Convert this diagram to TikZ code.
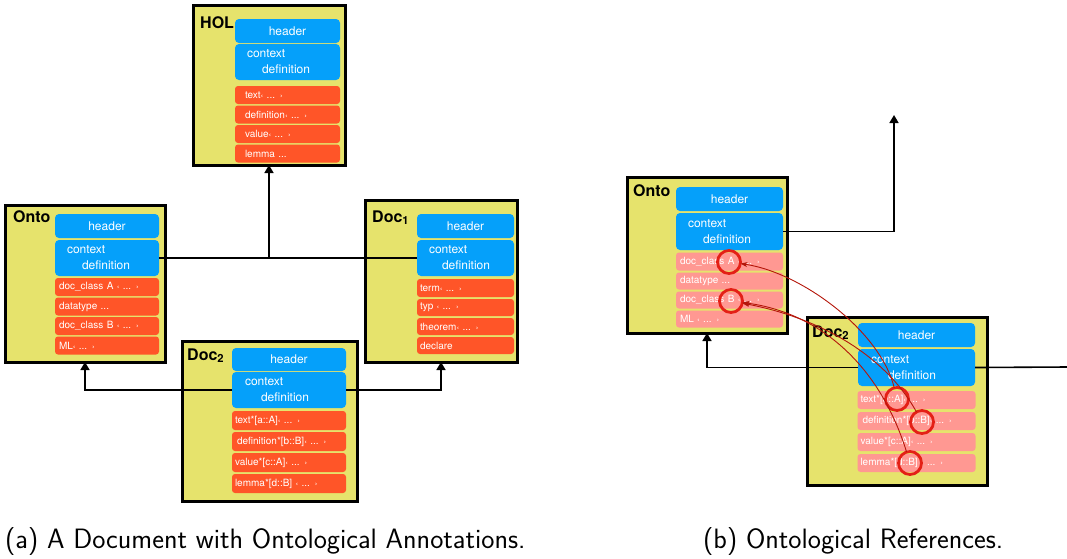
\documentclass[tikz,border=0pt]{standalone}
\usepackage{fontspec}
\setmainfont{TeX Gyre Heros}
\usetikzlibrary{arrows.meta, positioning}

\definecolor{boxyellow}{RGB}{230,227,108}
\definecolor{hdrblue}{RGB}{5,160,250}
\definecolor{itemred}{RGB}{255,85,40}
\definecolor{itempink}{RGB}{255,152,146}
\definecolor{markred}{RGB}{228,32,22}
\definecolor{refred}{RGB}{180,22,10}

\newcommand{\qo}{{\fontsize{8}{8}\selectfont‹}}
\newcommand{\qc}{{\fontsize{8}{8}\selectfont›}}

\begin{document}
\begin{tikzpicture}[
    x=1pt, y=-1pt,
    frame/.style={rectangle, draw=black, line width=3pt, fill=boxyellow, anchor=north west, inner sep=0pt, outer sep=0pt},
    title/.style={anchor=base west, inner sep=0pt, font=\bfseries\fontsize{16}{16}\selectfont},
    header/.style={rectangle, fill=hdrblue, rounded corners=4pt, text=white, anchor=north west, minimum height=24pt, inner sep=0pt, outer sep=0pt, font=\fontsize{12}{13}\selectfont},
    ctx/.style={rectangle, fill=hdrblue, rounded corners=4pt, text=white, minimum height=36pt, inner xsep=12pt, inner ysep=0pt, outer sep=0pt, align=left, font=\fontsize{12}{16}\selectfont},
    item/.style={rectangle, fill=itemred, rounded corners=3pt, text=white, minimum height=18pt, inner xsep=4pt, inner ysep=0pt, outer sep=0pt, align=left, font=\fontsize{10}{10}\selectfont},
    pale/.style={item, fill=itempink},
    conn/.style={draw=black, line width=1.6pt, -{Triangle[length=8pt,width=9pt]}},
    plain/.style={draw=black, line width=1.6pt},
    refring/.style={circle, draw=markred, line width=2.8pt, minimum size=23pt, inner sep=0pt, outer sep=0pt},
    refline/.style={draw=refred, line width=0.9pt, -{Stealth[length=7pt,width=5pt]}},
    caption/.style={anchor=base west, inner sep=0pt, font=\sffamily\fontsize{28}{28}\selectfont}
  ]
  \useasboundingbox (0,0) rectangle (1067,558);

  % (a) HOL
  \node[frame, minimum width=152pt, minimum height=160pt] (hol) at (193,5) {};
  \node[title] (holtitle) at ([shift={(7,23)}]hol.north west) {HOL};
  \node[header, minimum width=105pt] (holhdr) at (235,19) {header};
  \node[ctx, text width=81pt, below=1pt of holhdr] (holctx) {context\\\hspace*{15pt}definition};
  \node[item, text width=85pt, inner xsep=10pt, below=6pt of holctx] (holi1) {text\qo{} ... \qc};
  \node[item, text width=85pt, inner xsep=10pt, below=1.5pt of holi1] (holi2) {definition\qo{} ... \qc};
  \node[item, text width=85pt, inner xsep=10pt, below=1.5pt of holi2] (holi3) {value\qo{} ... \qc};
  \node[item, text width=85pt, inner xsep=10pt, below=1.5pt of holi3] (holi4) {lemma ...};

  % (a) Onto
  \node[frame, minimum width=160pt, minimum height=157pt] (onto) at (5,205) {};
  \node[title] (ontotitle) at ([shift={(8,17)}]onto.north west) {Onto};
  \node[header, minimum width=104pt] (ontohdr) at (55,214) {header};
  \node[ctx, text width=80pt, below=2pt of ontohdr] (ontoctx) {context\\\hspace*{15pt}definition};
  \node[item, text width=96pt, below=2pt of ontoctx] (ontoi1) {doc\_class A \qo{} ... \qc};
  \node[item, text width=96pt, below=1.5pt of ontoi1] (ontoi2) {datatype ...};
  \node[item, text width=96pt, below=1.5pt of ontoi2] (ontoi3) {doc\_class B \qo{} ... \qc};
  \node[item, text width=96pt, below=1.5pt of ontoi3] (ontoi4) {ML\qo{} ... \qc};

  % (a) Doc1
  \node[frame, minimum width=152pt, minimum height=162pt] (docone) at (365,200) {};
  \node[title] (doconetitle) at ([shift={(7,22)}]docone.north west) {Doc\textsubscript{1}};
  \node[header, minimum width=97pt] (doconehdr) at (417,214) {header};
  \node[ctx, text width=73pt, inner xsep=12pt, below=2pt of doconehdr] (doconectx) {context\\\hspace*{13pt}definition};
  \node[item, text width=91pt, inner xsep=3pt, below=3pt of doconectx] (doconei1) {term\qo{} ... \qc};
  \node[item, text width=91pt, inner xsep=3pt, minimum height=17pt, below=2pt of doconei1] (doconei2) {typ \qo{} ... \qc};
  \node[item, text width=91pt, inner xsep=3pt, minimum height=17pt, below=2pt of doconei2] (doconei3) {theorem\qo{} ... \qc};
  \node[item, text width=91pt, inner xsep=3pt, minimum height=17pt, below=2pt of doconei3] (doconei4) {declare};

  % (a) Doc2
  \node[frame, minimum width=175pt, minimum height=160pt] (doctwo) at (182,341) {};
  \node[title] (doctwotitle) at ([shift={(5,19)}]doctwo.north west) {Doc\textsubscript{2}};
  \node[header, minimum width=114pt, minimum height=23pt] (doctwohdr) at (232,348) {header};
  \node[ctx, text width=88pt, inner xsep=13pt, below=1pt of doctwohdr] (doctwoctx) {context\\\hspace*{16pt}definition};
  \node[item, text width=108pt, inner xsep=3pt, minimum height=19pt, below=3pt of doctwoctx] (doctwoi1) {text*[a::A]\qo{} ... \qc};
  \node[item, text width=108pt, inner xsep=3pt, minimum height=19pt, below=2pt of doctwoi1] (doctwoi2) {\hspace*{2pt}definition*[b::B]\qo{} ... \qc};
  \node[item, text width=108pt, inner xsep=3pt, minimum height=19pt, below=2pt of doctwoi2] (doctwoi3) {value*[c::A]\qo{} ... \qc};
  \node[item, text width=108pt, inner xsep=3pt, minimum height=19pt, below=2pt of doctwoi3] (doctwoi4) {lemma*[d::B] \qo{} ... \qc};

  % (a) links
  \draw[plain] (ontoctx.east) -- (doconectx.west);
  \draw[conn] (ontoctx.east -| hol.south) -- (hol.south);
  \draw[conn] (doctwoctx.west) -| (onto.south);
  \draw[conn] (doctwoctx.east) -| (docone.south);

  % (b) Onto
  \node[frame, minimum width=160pt, minimum height=156pt] (ontob) at (627,177) {};
  \node[title] (ontobtitle) at ([shift={(6,19)}]ontob.north west) {Onto};
  \node[header, minimum width=107pt] (ontobhdr) at (676,187) {header};
  \node[ctx, text width=83pt, minimum height=37pt, below=2pt of ontobhdr] (ontobctx) {context\\\hspace*{15pt}definition};
  \node[pale, text width=99pt, below=2.5pt of ontobctx] (ontobi1) {doc\_class A \qo{} ... \qc};
  \node[pale, text width=99pt, minimum height=17pt, below=2pt of ontobi1] (ontobi2) {datatype ...};
  \node[pale, text width=99pt, minimum height=17pt, below=2pt of ontobi2] (ontobi3) {doc\_class B \qo{} ... \qc};
  \node[pale, text width=99pt, minimum height=17pt, below=2pt of ontobi3] (ontobi4) {ML \qo{} ... \qc};

  % (b) Doc2
  \node[frame, minimum width=180pt, minimum height=168pt] (doctwob) at (807,317) {};
  \node[title] (doctwobtitle) at ([shift={(5,20)}]doctwob.north west) {Doc\textsubscript{2}};
  \node[header, minimum width=117pt] (doctwobhdr) at (858,323) {header};
  \node[ctx, text width=91pt, inner xsep=13pt, minimum height=37pt, below=2pt of doctwobhdr] (doctwobctx) {context\\\hspace*{17pt}definition};
  \node[pale, text width=112pt, inner xsep=3pt, below=5pt of doctwobctx] (doctwobi1) {text*[a::A]\qo{} ... \qc};
  \node[pale, text width=112pt, inner xsep=3pt, below=3pt of doctwobi1] (doctwobi2) {\hspace*{2pt}definition*[b::B]\qo{} ... \qc};
  \node[pale, text width=112pt, inner xsep=3pt, below=3pt of doctwobi2] (doctwobi3) {value*[c::A]\qo{} ... \qc};
  \node[pale, text width=112pt, inner xsep=3pt, below=3pt of doctwobi3] (doctwobi4) {lemma*[d::B] \qo{} ... \qc};

  % (b) links
  \coordinate (upend) at (894,115);
  \coordinate (offpage) at (1067,367);
  \draw[conn] (ontobctx.east) -| (upend);
  \draw[conn] (doctwobctx.west) -| (ontob.south);
  \draw[plain] (doctwobctx.east) -- (offpage);

  % (b) references
  \node[refring] (refA) at (729,262) {};
  \node[refring] (refB) at (731,301) {};
  \node[refring] (useA) at (897,399) {};
  \node[refring] (useB) at (922,422) {};
  \node[refring] (useD) at (910,463) {};
  \draw[refline] (useA) .. controls (880,330) and (800,272) .. (refA);
  \draw[refline] (useB) .. controls (885,355) and (820,318) .. (refB);
  \draw[refline] (useD) .. controls (878,360) and (815,312) .. (refB);

  % captions
  \node[caption] (capa) at (5,548) {(a) A Document with Ontological Annotations.};
  \node[caption] (capb) at (703,548) {(b) Ontological References.};
\end{tikzpicture}
\end{document}
